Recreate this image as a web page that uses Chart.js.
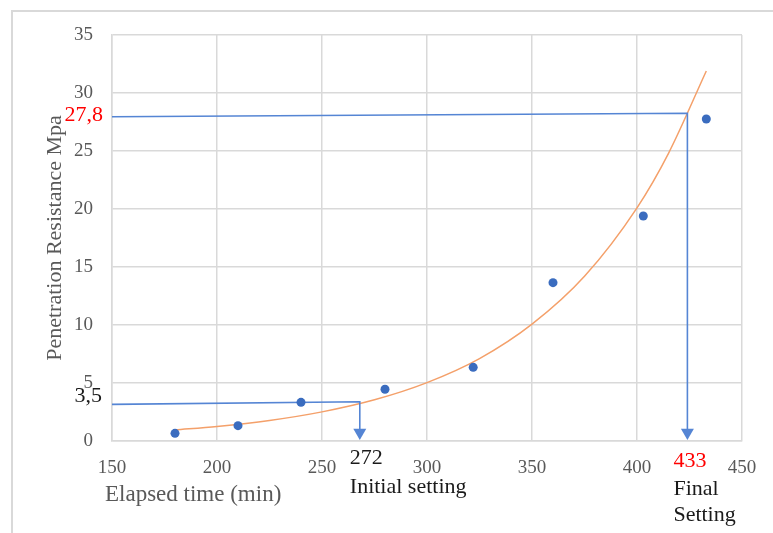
<!DOCTYPE html>
<html>
<head>
<meta charset="utf-8">
<script src="https://cdn.jsdelivr.net/npm/chart.js@4.4.1/dist/chart.umd.min.js"></script>
<style>
    html, body { margin: 0; padding: 0; background: #fff; }
    #wrap { width: 773px; height: 533px; }
</style>
</head>
<body>
<div id="wrap"><canvas id="setChart" width="773" height="533"></canvas></div>
<script>
// penetration resistance vs elapsed time — measured points + exponential trend
const timeMin    = [180, 210, 240, 280, 322, 360, 403, 433];
const resistance = [0.66, 1.32, 3.33, 4.46, 6.35, 13.65, 19.4, 27.76];

// trend curve
const trendX = [180, 200, 225, 250, 275, 300, 325, 350, 375, 400, 415, 433];
const trendY = [0.95, 1.25, 1.77, 2.51, 3.55, 5.03, 7.1, 10.07, 14.2, 20.1, 24.8, 31.9];

// guide lines for initial / final setting (last point is the arrow head)
const initialX = [150, 268, 268];
const initialY = [3.16, 3.38, 0.73];
const finalX   = [150, 424, 424];
const finalY   = [27.95, 28.25, 0.73];

const xTicks = [150, 200, 250, 300, 350, 400, 450];
const yTicks = [0, 5, 10, 15, 20, 25, 30, 35];

const SERIF  = '"Liberation Serif", "Times New Roman", serif';
const BLUE   = '#3a6cbf';
const GUIDE  = '#5585d4';
const ORANGE = '#f4a06a';
const GRID   = '#d9d9d9';

const toPts = (xs, ys) => xs.map((x, i) => ({ x, y: ys[i] }));

// arrow head only on the last point of a guide line
function guideSet(xs, ys) {
    const last = xs.length - 1;
    return {
        data:             toPts(xs, ys),
        showLine:         true,
        borderColor:      GUIDE,
        borderWidth:      1.6,
        pointRadius:      xs.map((_, i) => i === last ? 7.5 : 0),
        pointStyle:       'triangle',
        rotation:         180,
        backgroundColor:  GUIDE,
        pointBorderWidth: 0,
        clip:             false,
    };
}

// ---- text that sits outside the axes ----
const labelPlugin = {
    id: 'labels',
    beforeDraw(chart) {
        const ctx = chart.ctx;
        ctx.save();
        ctx.strokeStyle = GRID;
        ctx.lineWidth = 2;
        ctx.beginPath();
        ctx.moveTo(12, 533);
        ctx.lineTo(12, 11);
        ctx.lineTo(773, 11);
        ctx.stroke();
        ctx.restore();
    },
    afterDraw(chart) {
        const ctx  = chart.ctx;
        const xs   = chart.scales.x;
        const ys   = chart.scales.y;
        const area = chart.chartArea;

        const put = (text, x, y, color, align) => {
            ctx.fillStyle = color;
            ctx.textAlign = align || 'left';
            ctx.fillText(text, x, y);
        };

        ctx.save();
        ctx.textBaseline = 'alphabetic';
        ctx.font = '22px ' + SERIF;

        put('27,8', area.left - 9,  ys.getPixelForValue(27.8) + 2, '#ff0000', 'right');
        put('3,5',  area.left - 10, ys.getPixelForValue(3.5) + 2,  '#1a1a1a', 'right');

        const xi = xs.getPixelForValue(initialX[1]);
        put('272',             xi - 10, area.bottom + 23, '#1a1a1a');
        put('Initial setting', xi - 10, area.bottom + 52, '#1a1a1a');

        const xf = xs.getPixelForValue(finalX[1]);
        put('433',     xf - 14, area.bottom + 26, '#ff0000');
        put('Final',   xf - 14, area.bottom + 54, '#1a1a1a');
        put('Setting', xf - 14, area.bottom + 80, '#1a1a1a');

        ctx.font = '23px ' + SERIF;
        put('Elapsed time (min)', area.left - 7, area.bottom + 60, '#595959');

        // rotated y title
        ctx.font = '22px ' + SERIF;
        ctx.translate(55, (area.top + area.bottom) / 2);
        ctx.rotate(-Math.PI / 2);
        ctx.textBaseline = 'middle';
        put('Penetration Resistance Mpa', 0, 0, '#595959', 'center');
        ctx.restore();
    },
};

new Chart(document.getElementById('setChart'), {
    type: 'scatter',
    data: {
        datasets: [
            {
                data:             toPts(timeMin, resistance),
                pointRadius:      4.5,
                pointHoverRadius: 4.5,
                backgroundColor:  BLUE,
                borderColor:      BLUE,
                pointBorderWidth: 0,
            },
            guideSet(initialX, initialY),
            guideSet(finalX, finalY),
            {
                data:        toPts(trendX, trendY),
                showLine:    true,
                borderColor: ORANGE,
                borderWidth: 1.5,
                pointRadius: 0,
                cubicInterpolationMode: 'monotone',
            },
        ],
    },
    options: {
        responsive: false,
        animation:  false,
        layout: { padding: { left: 0, top: 35, right: 31, bottom: 0 } },
        plugins: {
            legend:  { display: false },
            tooltip: { enabled: false },
        },
        scales: {
            x: {
                type: 'linear',
                min:  xTicks[0],
                max:  xTicks[xTicks.length - 1],
                afterFit(scale) { scale.height = 92; },
                afterBuildTicks(scale) { scale.ticks = xTicks.map(v => ({ value: v })); },
                grid:   { color: GRID, lineWidth: 1.5, drawTicks: false },
                border: { color: GRID, width: 1.5 },
                ticks: {
                    padding: 16,
                    color:   '#595959',
                    font:    { family: SERIF, size: 19 },
                },
            },
            y: {
                type: 'linear',
                min:  yTicks[0],
                max:  yTicks[yTicks.length - 1],
                afterFit(scale) { scale.width = 112; },
                afterBuildTicks(scale) { scale.ticks = yTicks.map(v => ({ value: v })); },
                grid:   { color: GRID, lineWidth: 1.5, drawTicks: false },
                border: { color: GRID, width: 1.5 },
                ticks: {
                    padding: 19,
                    color:   '#595959',
                    font:    { family: SERIF, size: 19 },
                },
            },
        },
    },
    plugins: [labelPlugin],
});
</script>
</body>
</html>
